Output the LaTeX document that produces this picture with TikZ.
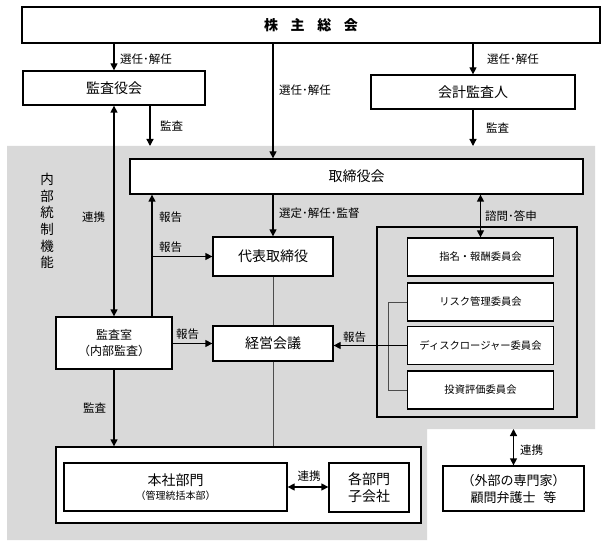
\documentclass[tikz,border=0pt]{standalone}
\usepackage{fontspec}
\setmainfont{Noto Sans CJK JP}
\usepackage{tikz}
\usetikzlibrary{arrows.meta}
\usetikzlibrary{positioning}
\definecolor{ctrlgray}{RGB}{217,217,217}
\tikzset{
    unit/.style={
        draw,
        fill=white,
        line width=1.3pt,
        inner sep=0pt,
        align=center,
        font=\fontsize{14}{17}\selectfont
    },
    memo/.style={
        anchor=west,
        inner sep=0pt,
        font=\fontsize{11.5}{13}\selectfont
    }
}

\begin{document}
\begin{tikzpicture}[x=1pt,y=-1pt]
  \tikzset{
    flow/.style={
      draw=black,
      line width=1.3pt,
      -{Triangle[length=7pt,width=7pt]}
    },
    both/.style={
      draw=black,
      line width=1.3pt,
      {Triangle[length=7pt,width=7pt]}-{Triangle[length=7pt,width=7pt]}
    },
    link/.style={
      draw=black!70,
      line width=0.9pt
    },
    cmte/.style={
      unit,
      minimum width=146pt,
      minimum height=38pt,
      font=\fontsize{10.3}{12}\selectfont
    }
  }
  \useasboundingbox (0,0) rectangle (613,548);

  % Internal control area
  \fill[ctrlgray] (7,146) -- (595,146) -- (595,429) -- (427,429) -- (427,540) -- (7,540) -- cycle;
  \coordinate (ntop) at (7,146);
  \coordinate (ncut) at (427,429);
  \node[font=\fontsize{13.5}{16.6}\selectfont, align=center] (naibu) at (47,221) {内\\部\\統\\制\\機\\能};

  % Top level
  \node[unit, minimum width=578pt, minimum height=36pt] (soukai) at (311,25)
    {\bfseries 株\hspace{0.9em}主\hspace{0.9em}総\hspace{0.9em}会};
  \node[unit, minimum width=182pt, minimum height=34pt] (kansayaku) at (114,88) {監査役会};
  \node[unit, minimum width=204pt, minimum height=34pt] (kaikei) at (473,92) {会計監査人};

  % Board and executives
  \node[unit, minimum width=453pt, minimum height=35pt] (torishimari) at (356.5,176.5) {取締役会};
  \node[unit, minimum width=120pt, minimum height=39pt] (daihyo) at (273,256.5) {代表取締役};
  \node[unit, minimum width=120pt, minimum height=35pt] (keiei) at (273,343.5) {経営会議};
  \node[unit, minimum width=116pt, minimum height=52pt, font=\fontsize{12}{16}\selectfont] (kansashitsu) at (114,343)
    {監査室\\（内部監査）};

  % Committees
  \node[draw, line width=1.3pt, minimum width=200pt, minimum height=190pt] (iinkai) at (477,322) {};
  \foreach \n/\t/\y in {shimei/指名・報酬委員会/257, risk/リスク管理委員会/302,
      disc/ディスクロージャー委員会/345.5, toushi/投資評価委員会/390} {
    \node[cmte] (\n) at (480.5,\y) {\t};
  }

  % Divisions
  \node[unit, minimum width=365pt, minimum height=76pt] (bumon) at (238.5,485) {};
  \node[unit, minimum width=223pt, minimum height=48pt] (honsha) at (175.5,487)
    {本社部門\\[-3pt]{\fontsize{10}{12}\selectfont （管理統括本部）}};
  \node[unit, minimum width=80pt, minimum height=49pt] (kaku) at (369,487.5) {各部門\\子会社};
  \node[unit, minimum width=141pt, minimum height=45pt, font=\fontsize{13}{17}\selectfont] (gaibu) at (513.5,488.5)
    {（外部の専門家）\\顧問弁護士\hspace{0.6em}等};

  % Appointments from shareholders
  \draw[flow] (soukai.south -| kansayaku.north) -- (kansayaku.north);
  \draw[flow] (soukai.south -| daihyo.north) -- (torishimari.north -| daihyo.north);
  \draw[flow] (soukai.south -| kaikei.north) -- (kaikei.north);
  \node[memo] (m1) at (120,59) {選任･解任};
  \node[memo] (m2) at (279,90) {選任･解任};
  \node[memo] (m3) at (487,59) {選任･解任};

  % Audits from above
  \draw[flow] ([xshift=36pt]kansayaku.south) -- ([xshift=36pt]kansayaku.south |- ntop);
  \draw[flow] (kaikei.south) -- (kaikei.south |- ntop);
  \node[memo] (m4) at (160,126) {監査};
  \node[memo] (m5) at (486,128) {監査};

  % Internal audit
  \draw[both] (kansashitsu.north) -- (kansashitsu.north |- kansayaku.south);
  \node[memo] (m6) at (82,217) {連携};
  \draw[flow] ([xshift=38pt]kansashitsu.north) -- ([xshift=38pt]kansashitsu.north |- torishimari.south);
  \draw[flow] ([xshift=38pt]kansashitsu.north |- daihyo.west) -- (daihyo.west);
  \node[memo] (m7) at (159,217) {報告};
  \node[memo] (m8) at (159,247) {報告};
  \draw[flow] (kansashitsu.east |- keiei.west) -- (keiei.west);
  \node[memo] (m9) at (176,334) {報告};
  \draw[flow] (kansashitsu.south) -- (kansashitsu.south |- bumon.north);
  \node[memo] (m10) at (83,408) {監査};

  % Board to executives
  \draw[flow] (torishimari.south -| daihyo.north) -- (daihyo.north);
  \node[memo] (m11) at (279,213) {選定･解任･監督};
  \draw[link] (daihyo.south) -- (keiei.north);
  \draw[link] (keiei.south) -- (keiei.south |- bumon.north);

  % Committees
  \draw[both] (shimei.north |- torishimari.south) -- (shimei.north);
  \node[memo] (m12) at (485,216) {諮問･答申};
  \draw[link] (risk.west) -- ++(-18,0) |- (toushi.west);
  \draw[flow] (disc.west) -- (disc.west -| keiei.east);
  \node[memo] (m13) at (343,337) {報告};

  % Cooperation
  \draw[both] (honsha.east) -- (honsha.east -| kaku.west);
  \node[memo, anchor=center] (m14) at (309,476) {連携};
  \draw[both] (gaibu.north |- ncut) -- (gaibu.north);
  \node[memo] (m15) at (520,450) {連携};
\end{tikzpicture}
\end{document}
